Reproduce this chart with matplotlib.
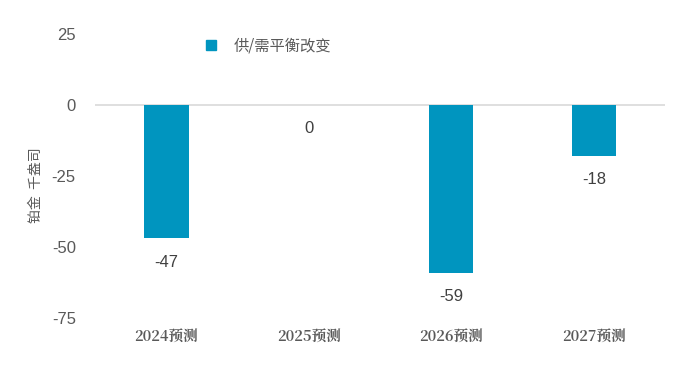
import matplotlib
matplotlib.use("Agg")
import matplotlib.pyplot as plt
from matplotlib.lines import Line2D

plt.rcParams['font.family'] = ['Noto Sans CJK SC', 'DejaVu Sans']

categories = ["2024预测", "2025预测", "2026预测", "2027预测"]
values = [-47, 0, -59, -18]
value_labels = ["-47", "0", "-59", "-18"]
yticks = [25, 0, -25, -50, -75]
series_name = "供/需平衡改变"
ylabel = "铂金  千盎司"

bar_color = "#0095BF"
tick_color = "#595959"

fig = plt.figure(figsize=(7, 3.77), dpi=100)
ax = fig.add_axes([0.136, 0.1565, 0.814, 0.7535])

x = list(range(len(categories)))
ax.bar(x, values, width=0.31, color=bar_color, zorder=2)
ax.axhline(0, color="#D9D9D9", lw=1.2, zorder=1)

for xi, v, lab in zip(x, values, value_labels):
    ax.annotate(lab, (xi, v), xytext=(0, -17), textcoords="offset points",
                ha="center", va="center", fontsize=12, color="#404040",
                family=['Liberation Sans', 'DejaVu Sans'])

ax.set_xlim(-0.5, 3.5)
ax.set_ylim(-75, 25)
ax.set_yticks(yticks)
ax.set_yticklabels([str(t) for t in yticks], fontsize=12, color=tick_color,
                   family=['Liberation Sans', 'DejaVu Sans'])
ax.set_xticks(x)
ax.set_xticklabels(categories, fontsize=10.5, color=tick_color, fontweight="bold",
                   family=['Noto Serif CJK SC', 'Noto Sans CJK SC', 'DejaVu Sans'])
ax.tick_params(axis="both", length=0, pad=14)
ax.tick_params(axis="x", pad=8)
for s in ax.spines.values():
    s.set_visible(False)

fig.text(0.052, 0.51, ylabel, rotation=90, ha="center", va="center",
         fontsize=10, color=tick_color)

handle = Line2D([], [], marker="s", linestyle="none", markersize=7,
                markerfacecolor=bar_color, markeredgecolor=bar_color)
ax.legend([handle], [series_name], loc="upper left", bbox_to_anchor=(0.152, 1.035),
          frameon=False, fontsize=11, labelcolor=tick_color, handletextpad=0.5)

fig.savefig("out.png", dpi=100)
